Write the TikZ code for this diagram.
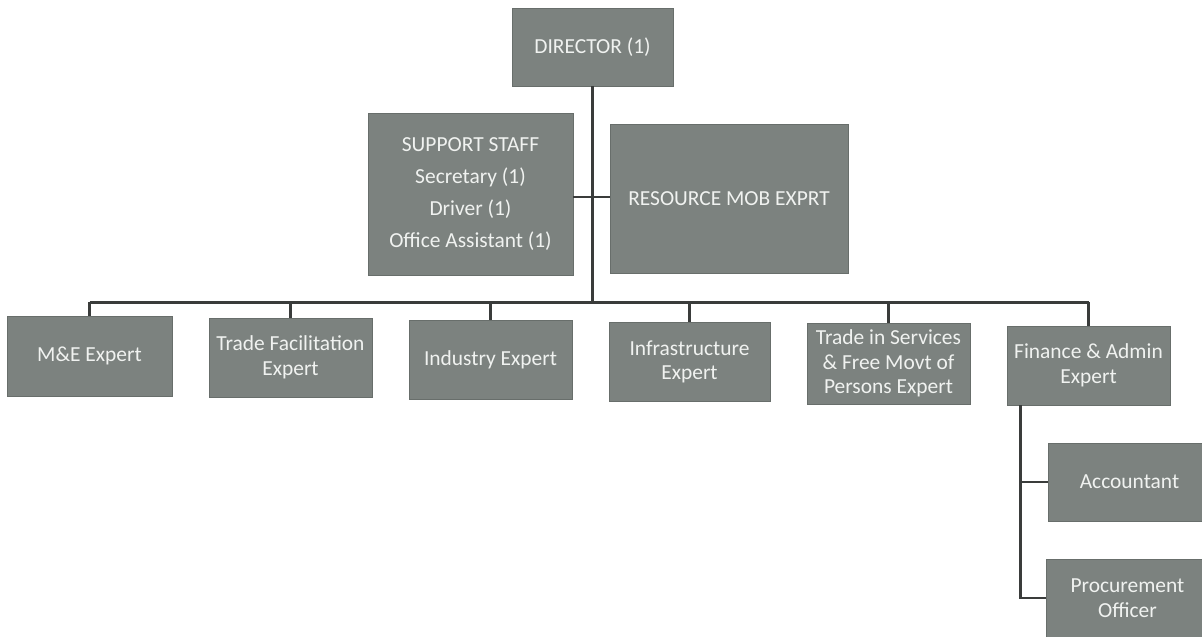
\documentclass[tikz,border=0pt]{standalone}
\usepackage{fontspec}
\setmainfont{Carlito}
\usepackage{tikz}
\usetikzlibrary{positioning,calc}
\tikzset{every node/.append style={align=center}}
\definecolor{boxcolor}{RGB}{124, 130, 127}
\definecolor{boxedge}{RGB}{104, 110, 107}
\definecolor{textcolor}{RGB}{240, 242, 240}
\definecolor{linecolor}{RGB}{58, 60, 59}
\tikzset{
  orgbox/.style={draw=boxedge, fill=boxcolor, text=textcolor, inner sep=2pt,
    minimum width=3.26cm, minimum height=1.58cm,
    font=\fontsize{12.2}{14}\selectfont},
  orgline/.style={draw=linecolor, line width=1.4pt}
}

\begin{document}
\begin{tikzpicture}
    \useasboundingbox (0,0) rectangle (24.04,-12.72);
    \clip (0,0) rectangle (24.04,-12.72);

    % Top level
    \node[orgbox, minimum width=3.22cm, minimum height=1.56cm] (director) at (11.85,-0.94) {DIRECTOR (1)};

    % Staff beside the trunk
    \node[orgbox, minimum width=4.1cm, minimum height=3.24cm, font=\fontsize{12.2}{18.2}\selectfont] (support) at (9.41,-3.88)
        {SUPPORT STAFF\\Secretary (1)\\Driver (1)\\Office Assistant (1)};
    \node[orgbox, minimum width=4.76cm, minimum height=2.98cm] (resource) at (14.58,-3.97) {RESOURCE MOB EXPRT};

    % Experts
    \node[orgbox, minimum width=3.3cm, minimum height=1.6cm] (mne) at (1.79,-7.12) {M\&E Expert};
    \node[orgbox] (tradefac) at (5.81,-7.15) {Trade Facilitation\\Expert};
    \node[orgbox] (industry) at (9.81,-7.19) {Industry Expert};
    \node[orgbox, minimum width=3.22cm] (infra) at (13.79,-7.24) {Infrastructure\\Expert};
    \node[orgbox, minimum height=1.62cm] (services) at (17.77,-7.27) {Trade in Services\\\& Free Movt of\\Persons Expert};
    \node[orgbox] (finance) at (21.77,-7.31) {Finance \& Admin\\Expert};

    % Finance staff
    \node[orgbox, minimum height=1.56cm] (accountant) at (22.59,-9.64) {Accountant};
    \node[orgbox, minimum height=1.56cm] (procure) at (22.55,-11.96) {Procurement\\Officer};

    % Connectors
    \coordinate (bus) at ($(director.south)+(0,-4.32)$);
    \coordinate (staffjoin) at ($(support.east)+(0,-0.06)$);
    \draw[orgline] (director.south) -- (bus);
    \draw[orgline] (staffjoin) -- (staffjoin -| resource.west);
    \draw[orgline] (mne.north |- bus) -- (finance.north |- bus);
    \foreach \n in {mne, tradefac, industry, infra, services, finance}
        \draw[orgline] (\n.north |- bus) -- (\n.north);

    \coordinate (finstem) at ($(finance.south west)+(0.28,0)$);
    \draw[orgline] (finstem) |- (procure.west);
    \draw[orgline] (finstem |- accountant.west) -- (accountant.west);
\end{tikzpicture}
\end{document}
